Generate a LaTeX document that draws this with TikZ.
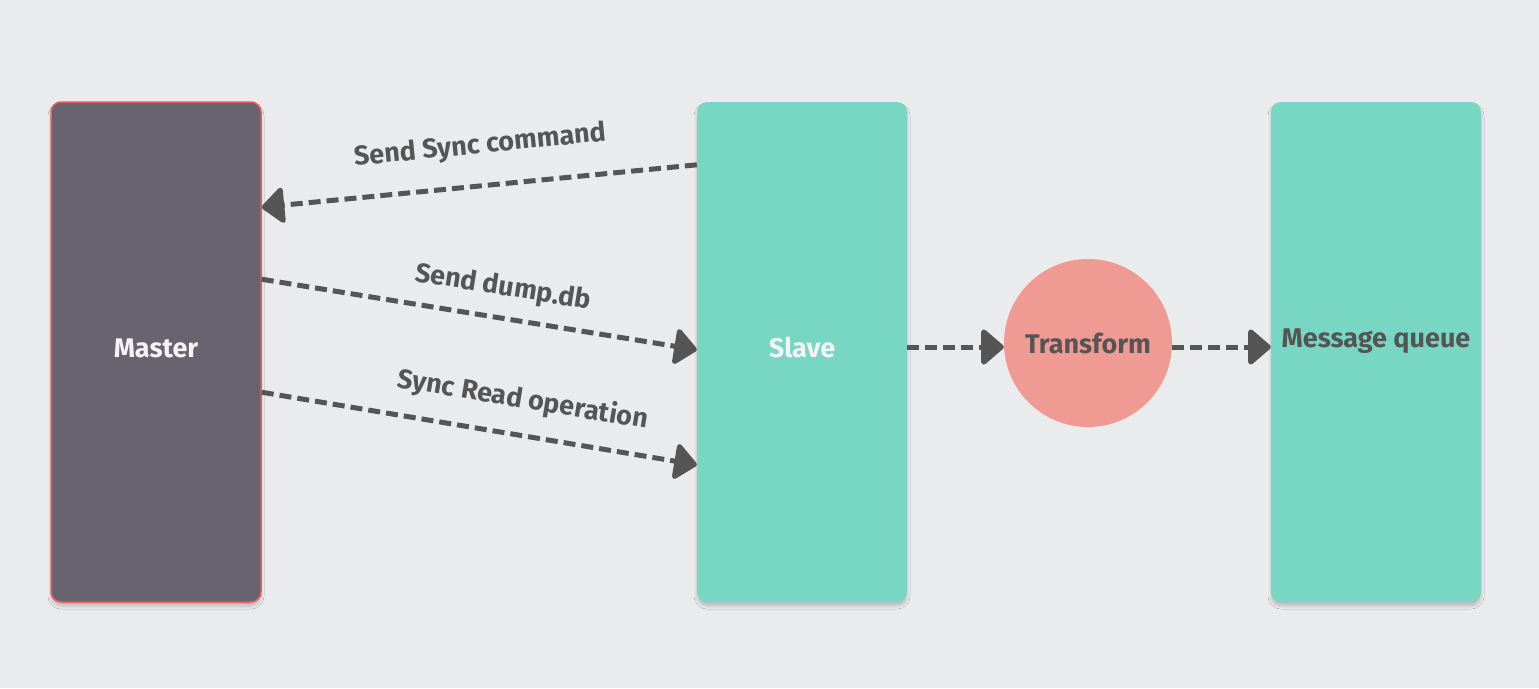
\documentclass[tikz,border=0pt]{standalone}
\usepackage{fontspec}
\setmainfont{Fira Sans}
\usetikzlibrary{arrows.meta,shadows.blur}
\definecolor{bgc}{HTML}{EAEBED}
\definecolor{masterfill}{HTML}{67646F}
\definecolor{masterborder}{HTML}{F05A5A}
\definecolor{teal}{HTML}{77D7C3}
\definecolor{salmon}{HTML}{F09A94}
\definecolor{arrowc}{HTML}{555555}
\definecolor{lightt}{HTML}{F4F4F6}
\tikzset{
  box/.style={rectangle, rounded corners=10pt, minimum width=210pt, minimum height=500pt,
    inner sep=0pt, font=\fontsize{27}{31}\selectfont\bfseries,
    blur shadow={shadow xshift=0pt, shadow yshift=-4pt, shadow blur steps=6, shadow opacity=20, shadow blur radius=3pt}},
  flow/.style={draw=arrowc, line width=5pt, dash pattern=on 12pt off 6pt,
    -{Triangle[length=24pt,width=40pt,round]}},
  lbl/.style={font=\fontsize{27}{31}\selectfont\bfseries, text=arrowc, inner sep=0pt}
}
\begin{document}
\begin{tikzpicture}[x=1pt,y=-1pt]
\fill[bgc] (0,0) rectangle (1539,688);
\useasboundingbox (0,0) rectangle (1539,688);
\node[box, fill=masterfill, draw=masterborder, line width=1.5pt, text=lightt] (master) at (156,352) {\raisebox{-5.5pt}[0pt][0pt]{Master}};
\node[box, fill=teal, text=lightt] (slave) at (802,352) {\raisebox{-5.5pt}[0pt][0pt]{Slave}};
\node[box, fill=teal, text=arrowc] (mq) at (1376,352) {\raisebox{4.5pt}[0pt][0pt]{Message queue}};
\node[circle, fill=salmon, minimum size=168pt, inner sep=0pt, text=arrowc,
  font=\fontsize{27}{31}\selectfont\bfseries] (tf) at (1088,343) {Transform};

\draw[flow] ([yshift=-63pt]slave.north west) -- ([yshift=-106pt]master.north east);
\draw[flow] ([yshift=-178pt]master.north east) -- ([yshift=-248pt]slave.north west);
\draw[flow] ([yshift=-291pt]master.north east) -- ([yshift=-363pt]slave.north west);
\draw[flow] ([yshift=5pt]slave.east) -- ([yshift=-4pt]tf.west);
\draw[flow] ([yshift=-4pt]tf.east) -- ([yshift=5pt]mq.west);

\node[lbl, rotate=5.6] (l1) at (480,146) {Send Sync command};
\node[lbl, rotate=-9.1] (l2) at (503,288) {Send dump.db};
\node[lbl, rotate=-9.4] (l3) at (523,400) {Sync Read operation};
\end{tikzpicture}
\end{document}
